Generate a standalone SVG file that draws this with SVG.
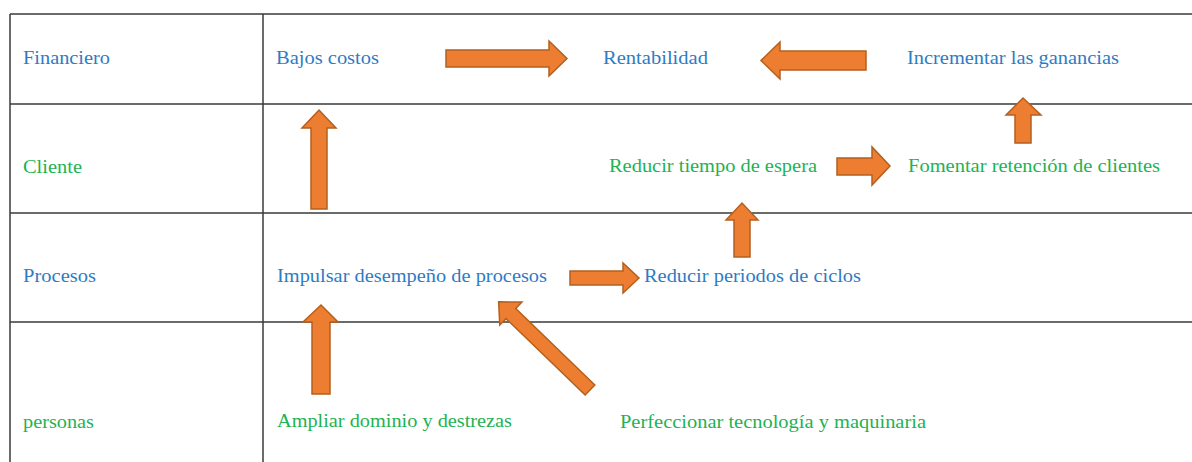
<svg xmlns="http://www.w3.org/2000/svg" width="1192" height="462" viewBox="0 0 1192 462">
<style>
  .grid { stroke: #3a3a3a; stroke-width: 1.5; fill: none; }
  .t { font-family: "Liberation Serif", "Times New Roman", serif; font-size: 19.5px; }
  .blue { fill: #2E7BC4; }
  .green { fill: #1DB354; }
  .arrow { fill: #ED7D31; stroke: #B3601F; stroke-width: 1.5; stroke-linejoin: miter; }
</style>
<rect width="1192" height="462" fill="#ffffff"/>
<g id="table">
  <line class="grid" x1="10" y1="14" x2="1192" y2="14"/>
  <line class="grid" x1="10" y1="104" x2="1192" y2="104"/>
  <line class="grid" x1="10" y1="213" x2="1192" y2="213"/>
  <line class="grid" x1="10" y1="322" x2="1192" y2="322"/>
  <line class="grid" x1="10" y1="14" x2="10" y2="462"/>
  <line class="grid" x1="263" y1="14" x2="263" y2="462"/>
</g>
<g id="row-labels">
  <text class="t blue" x="23" y="64" textLength="87" lengthAdjust="spacingAndGlyphs">Financiero</text>
  <text class="t green" x="23" y="173" textLength="59" lengthAdjust="spacingAndGlyphs">Cliente</text>
  <text class="t blue" x="23" y="282" textLength="73" lengthAdjust="spacingAndGlyphs">Procesos</text>
  <text class="t green" x="23" y="428" textLength="71" lengthAdjust="spacingAndGlyphs">personas</text>
</g>
<g id="node-bajos"><text class="t blue" x="276" y="64" textLength="103" lengthAdjust="spacingAndGlyphs">Bajos costos</text></g>
<g id="node-rentabilidad"><text class="t blue" x="603" y="64" textLength="105" lengthAdjust="spacingAndGlyphs">Rentabilidad</text></g>
<g id="node-incrementar"><text class="t blue" x="907" y="64" textLength="212" lengthAdjust="spacingAndGlyphs">Incrementar las ganancias</text></g>
<g id="node-reducir-tiempo"><text class="t green" x="609" y="172" textLength="208" lengthAdjust="spacingAndGlyphs">Reducir tiempo de espera</text></g>
<g id="node-fomentar"><text class="t green" x="908" y="172" textLength="252" lengthAdjust="spacingAndGlyphs">Fomentar retención de clientes</text></g>
<g id="node-impulsar"><text class="t blue" x="277" y="282" textLength="270" lengthAdjust="spacingAndGlyphs">Impulsar desempeño de procesos</text></g>
<g id="node-reducir-periodos"><text class="t blue" x="644" y="282" textLength="217" lengthAdjust="spacingAndGlyphs">Reducir periodos de ciclos</text></g>
<g id="node-ampliar"><text class="t green" x="277" y="427" textLength="235" lengthAdjust="spacingAndGlyphs">Ampliar dominio y destrezas</text></g>
<g id="node-perfeccionar"><text class="t green" x="620" y="428" textLength="306" lengthAdjust="spacingAndGlyphs">Perfeccionar tecnología y maquinaria</text></g>
<g id="connectors">
  <!-- Bajos costos -> Rentabilidad -->
  <polygon class="arrow" points="446,50 549,50 549,41 567,58.5 549,76 549,67 446,67"/>
  <!-- Incrementar -> Rentabilidad -->
  <polygon class="arrow" points="866,51 780,51 780,42 761,60.5 780,79 780,70 866,70"/>
  <!-- Fomentar -> Incrementar (up) -->
  <polygon class="arrow" points="1015,143 1015,115 1006,115 1023,98 1041,115 1031,115 1031,143"/>
  <!-- Impulsar -> Bajos costos (up) -->
  <polygon class="arrow" points="311,209 311,128 302,128 319,110 336,128 327,128 327,209"/>
  <!-- Reducir tiempo -> Fomentar -->
  <polygon class="arrow" points="837,158 872,158 872,147 890,166 872,185 872,175 837,175"/>
  <!-- Reducir periodos -> Reducir tiempo (up) -->
  <polygon class="arrow" points="734,257 734,220 726,220 742,203 758,220 750,220 750,257"/>
  <!-- Impulsar -> Reducir periodos -->
  <polygon class="arrow" points="570,271 623,271 623,263 639,278 623,293 623,285 570,285"/>
  <!-- Ampliar -> Impulsar (up) -->
  <polygon class="arrow" points="312,394 312,322 303,322 321,305 338,322 330,322 330,394"/>
  <!-- Perfeccionar -> Impulsar (diagonal) -->
  <polygon class="arrow" transform="translate(590,390) rotate(224)" points="0,-7 110,-7 110,-16 127,0 110,16 110,7 0,7"/>
</g>
</svg>
